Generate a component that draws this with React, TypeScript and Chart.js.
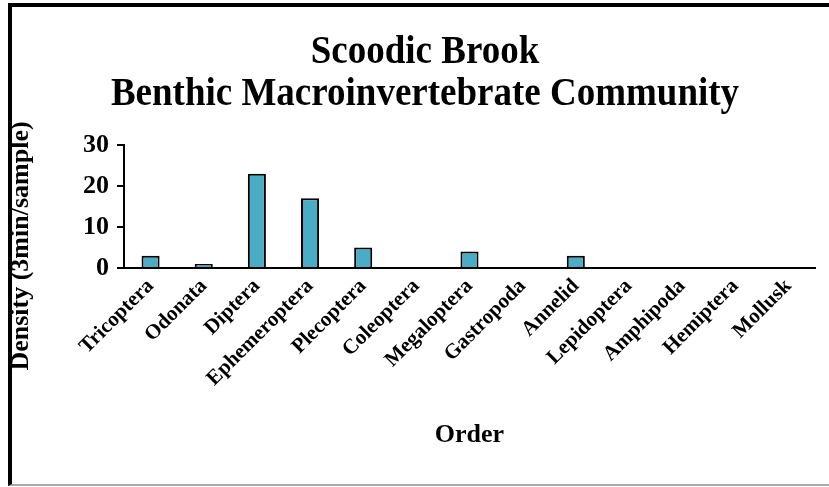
import React, { useEffect, useRef } from "react";
import { Chart, registerables } from "chart.js";

Chart.register(...registerables);

const TITLE_LINES = ["Scoodic Brook", "Benthic Macroinvertebrate Community"];
const Y_TITLE = "Density (3min/sample)";
const X_TITLE = "Order";
const CATEGORIES = [
  "Tricoptera",
  "Odonata",
  "Diptera",
  "Ephemeroptera",
  "Plecoptera",
  "Coleoptera",
  "Megaloptera",
  "Gastropoda",
  "Annelid",
  "Lepidoptera",
  "Amphipoda",
  "Hemiptera",
  "Mollusk",
];
const DENSITY = [3, 1, 23, 17, 5, 0, 4, 0, 3, 0, 0, 0, 0];
const Y_MIN = 0;
const Y_MAX = 30;
const Y_STEP = 5;
const Y_LABEL_STEP = 10;

const FONT = '"Liberation Serif", "Times New Roman", serif';

const textPlugin = {
  id: "customText",
  afterDraw(chart: any) {
    const ctx = chart.ctx as CanvasRenderingContext2D;
    ctx.save();
    ctx.fillStyle = "#000";
    ctx.textAlign = "center";
    ctx.textBaseline = "alphabetic";
    ctx.font = `bold 40px ${FONT}`;
    TITLE_LINES.forEach((t, i) => {
      ctx.save();
      ctx.translate(425, 63 + i * 42);
      ctx.scale(0.925, 1);
      ctx.fillText(t, 0, 0);
      ctx.restore();
    });
    ctx.translate(21, 246);
    ctx.rotate(-Math.PI / 2);
    ctx.textBaseline = "middle";
    ctx.font = `bold 26px ${FONT}`;
    ctx.fillText(Y_TITLE, 0, 0);
    ctx.restore();
  },
};

export default function App() {
  const ref = useRef<HTMLCanvasElement | null>(null);
  useEffect(() => {
    if (!ref.current) return;
    const chart = new Chart(ref.current, {
      type: "bar",
      data: {
        labels: CATEGORIES,
        datasets: [
          {
            data: DENSITY,
            backgroundColor: "#4BACC6",
            borderColor: "#000",
            borderWidth: 2,
            borderSkipped: "start",
            categoryPercentage: 1,
            barPercentage: 0.34,
          },
        ],
      },
      options: {
        animation: false,
        responsive: false,
        maintainAspectRatio: false,
        layout: { padding: { left: 5, right: 14, top: 145, bottom: 36.4 } },
        plugins: {
          legend: { display: false },
          title: { display: false },
          tooltip: { enabled: false },
        },
        scales: {
          x: {
            afterFit: (s: any) => {
              s.height = 182.6;
            },
            grid: { display: false, drawTicks: false },
            border: { display: true, color: "#000", width: 2 },
            ticks: {
              autoSkip: false,
              maxRotation: 45,
              minRotation: 45,
              padding: 6,
              color: "#000",
              font: { family: FONT, size: 21, weight: "bold" },
            },
            title: {
              display: true,
              text: X_TITLE,
              color: "#000",
              padding: 0,
              font: { family: FONT, size: 26, weight: "bold" },
            },
          },
          y: {
            min: Y_MIN,
            max: Y_MAX,
            afterFit: (s: any) => {
              s.width = 119;
            },
            grid: {
              display: true,
              drawOnChartArea: false,
              drawTicks: true,
              tickLength: 7,
              color: "#000",
              lineWidth: 2,
            },
            border: { display: true, color: "#000", width: 2 },
            ticks: {
              stepSize: Y_STEP,
              padding: 8,
              color: "#000",
              font: { family: FONT, size: 26, weight: "bold" },
              callback: (v: any) => (Number(v) % Y_LABEL_STEP === 0 ? String(v) : ""),
            },
          },
        },
      },
      plugins: [textPlugin],
    });
    return () => chart.destroy();
  }, []);

  return (
    <div style={{ position: "fixed", left: 0, top: 0, width: 829, height: 487, background: "#fff" }}>
      <div
        style={{
          position: "absolute",
          left: 8,
          top: 3,
          width: 829 - 8,
          height: 483,
          boxSizing: "border-box",
          borderLeft: "4px solid #000",
          borderTop: "4px solid #000",
          borderBottom: "2px solid #aaa",
        }}
      />
      <canvas
        ref={ref}
        width={829}
        height={487}
        style={{ position: "absolute", left: 0, top: 0, width: 829, height: 487 }}
      />
    </div>
  );
}
